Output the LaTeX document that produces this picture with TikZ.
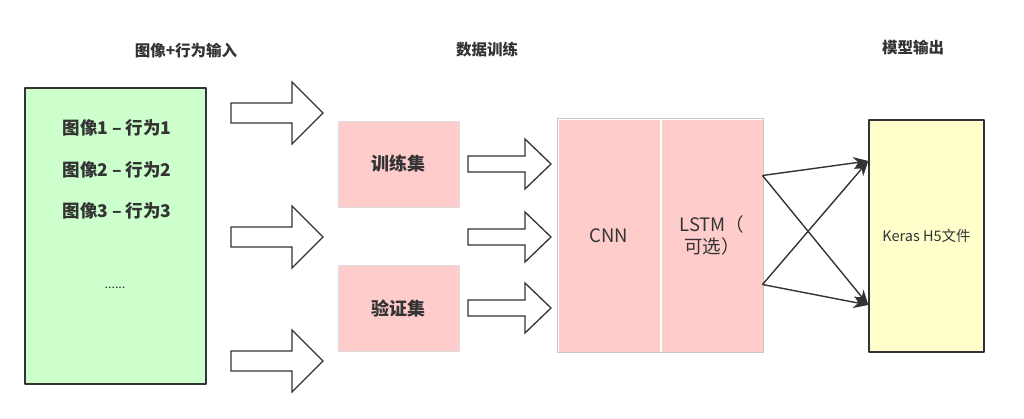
\documentclass[tikz,border=0pt]{standalone}
\usepackage{fontspec}
\setmainfont{Noto Sans CJK SC}
\usetikzlibrary{arrows.meta,calc}
\usetikzlibrary{positioning}
\definecolor{inkgray}{HTML}{333333}
\definecolor{datagreen}{HTML}{CCFFCC}
\definecolor{setpink}{HTML}{FFCCCC}
\definecolor{outyellow}{HTML}{FFFFCC}
\tikzset{heading/.style={font=\bfseries\fontsize{15.5}{18}\selectfont,text=inkgray},
  item/.style={font=\bfseries\fontsize{17.5}{20}\selectfont,text=inkgray},
  databox/.style={draw=inkgray,line width=1.4pt,fill=datagreen,minimum width=181,minimum height=296},
  setbox/.style={draw=gray!25,line width=0.8pt,fill=setpink,minimum width=121,minimum height=86,font=\bfseries\fontsize{18}{21}\selectfont,text=inkgray},
  netbox/.style={draw=white,line width=1pt,fill=setpink,minimum width=102,minimum height=233,font=\fontsize{18.5}{22}\selectfont,text=inkgray,align=center},
  outbox/.style={draw=inkgray,line width=1.4pt,fill=outyellow,minimum width=115,minimum height=232,font=\fontsize{14.5}{17}\selectfont,text=inkgray},
  fat/.style={draw=inkgray,line width=1.3pt,fill=white,line join=miter},
  flow/.style={draw=inkgray,line width=1.4pt,-{Stealth[length=15pt,width=12pt]}}}
% tail point, length, head length, shaft half width, head half width
\newcommand{\fatarrow}[5]{\draw[fat] (#1) ++(0,-#4) -- ++({#2-#3},0) -- ++(0,{#4-#5}) -- ++(#3,#5) -- ++(-#3,#5) -- ++(0,{#4-#5}) -- ++({#3-#2},0) -- cycle;}

\begin{document}
\begin{tikzpicture}[x=1pt,y=-1pt,>=Stealth,line join=round]
\useasboundingbox (0,0) rectangle (1024,418);
% --- headings
\node[heading] (h1) at (186,51) {图像+行为输入};
\node[heading] (h2) at (487,50) {数据训练};
\node[heading] (h3) at (913,48) {模型输出};
% --- input: image/behaviour pairs
\node[databox] (data) at (115.5,236) {};
\node[item] (p1) at (117,128) {图像1 – 行为1};
\node[item] (p2) at (117,170) {图像2 – 行为2};
\node[item] (p3) at (117,211) {图像3 – 行为3};
\node[item,font=\fontsize{12.5}{14}\selectfont] (pdots) at (115,288) {......};
\fatarrow{231,113}{92}{31}{10}{31}
\fatarrow{231,237}{92}{31}{10}{31}
\fatarrow{231,361}{92}{31}{10}{31}
% --- training / validation sets
\node[setbox] (train) at (398.5,164) {训练集};
\node[setbox] (valid) at (398.5,308.5) {验证集};
\fatarrow{468,164}{83}{26}{8}{25}
\fatarrow{468,237}{83}{26}{8}{25}
\fatarrow{468,308}{83}{26}{8}{25}
% --- network
\node[netbox] (cnn) at (609,235.5) {CNN};
\node[netbox,right=0pt of cnn] (lstm) {LSTM（\\ 可选）};
\draw[gray!45,line width=0.8pt] (cnn.north west) rectangle (lstm.south east);
% --- output
\node[outbox] (keras) at (926.5,236) {Keras H5文件};
\coordinate (o1) at ($(lstm.north east)+(-1,57)$);
\coordinate (o2) at ($(lstm.north east)+(-1,166)$);
\coordinate (k1) at ($(keras.west)+(0,-75)$);
\coordinate (k2) at ($(keras.west)+(0,69)$);
\draw[flow] (o1) -- (k1);
\draw[flow] (o1) -- (k2);
\draw[flow] (o2) -- (k1);
\draw[flow] (o2) -- (k2);
\end{tikzpicture}
\end{document}
